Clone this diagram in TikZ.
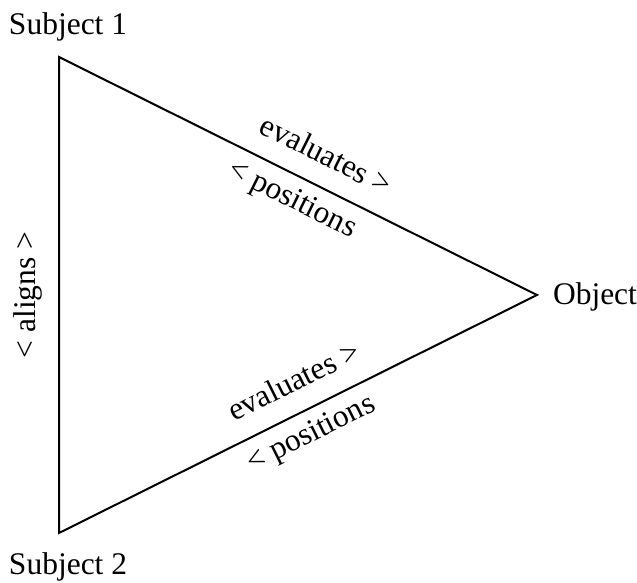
\documentclass[tikz,border=0pt]{standalone}
\usepackage{fontspec}
\setmainfont{Liberation Serif}
\usetikzlibrary{positioning}

\begin{document}
\begin{tikzpicture}[x=1pt, y=1pt, line width=2pt,
    every node/.style={font=\fontsize{31.5}{36}\selectfont, inner sep=0pt},
    upper/.style={sloped, above, inner sep=20pt},
    lower/.style={sloped, below, inner sep=10pt}]
  \useasboundingbox (0,0) rectangle (637,583);
  % corners of the triangle
  \coordinate (s1v) at (59,526);
  \coordinate (objv) at (537,288);
  \coordinate (s2v) at (59,50);
  \draw[line join=miter] (s1v) -- (objv) -- (s2v) -- cycle;
  % corner labels
  \node[anchor=base west] (subj1) at (8,548) {Subject 1};
  \node[anchor=base west] (subj2) at (8,8) {Subject 2};
  \node[anchor=base west] (obj) at (552,278) {Object};
  % edge labels
  \path (s1v) -- node[upper, pos=.53] (eval1) {evaluates >}
                 node[lower, pos=.51] (pos1) {< positions} (objv);
  \path (s2v) -- node[upper, pos=.52] (eval2) {evaluates >}
                 node[lower, pos=.505] (pos2) {< positions} (objv);
  \path (s2v) -- node[sloped, above, inner sep=16pt, pos=.5] (align) {< aligns >} (s1v);
\end{tikzpicture}
\end{document}
